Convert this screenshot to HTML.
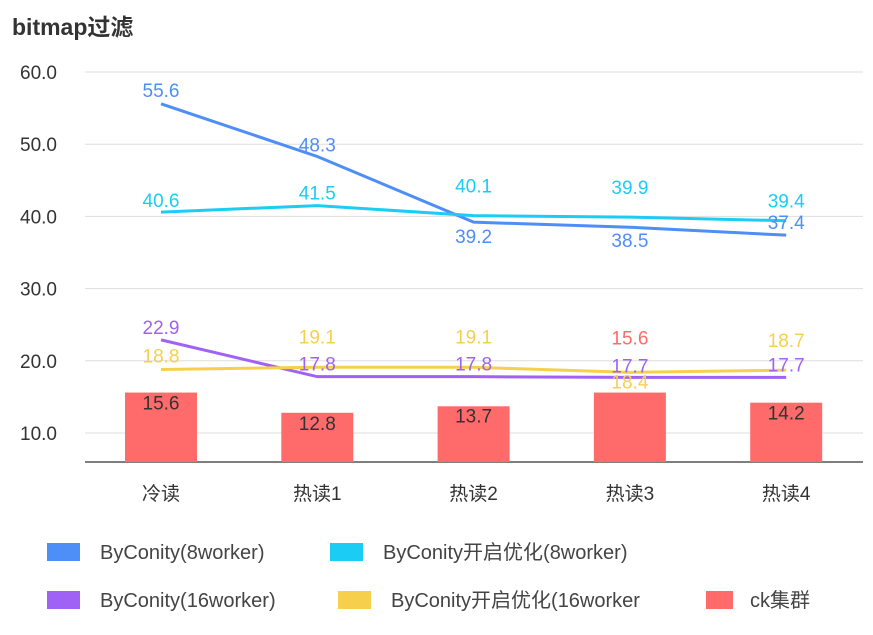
<!DOCTYPE html>
<html><head><meta charset="utf-8"><style>
body{margin:0;background:#fff;width:873px;height:630px;overflow:hidden;font-family:"Liberation Sans","Noto Sans CJK SC",sans-serif;}
svg text{font-family:"Liberation Sans","Noto Sans CJK SC",sans-serif;}
</style></head><body>
<svg id="chart" width="873" height="630" xmlns="http://www.w3.org/2000/svg">
<text x="12" y="35" font-size="23" font-weight="bold" fill="#333">bitmap过滤</text>
<g id="grid"></g><g id="bars"></g><g id="lines"></g><g id="labels"></g><g id="legend"></g>
</svg>
<script>
const categories=["冷读","热读1","热读2","热读3","热读4"];
const yTicks=[10,20,30,40,50,60];
const seriesNames=["ByConity(8worker)","ByConity开启优化(8worker)","ByConity(16worker)","ByConity开启优化(16worker","ck集群"];
const s8=[55.6,48.3,39.2,38.5,37.4];
const s8opt=[40.6,41.5,40.1,39.9,39.4];
const s16=[22.9,17.8,17.8,17.7,17.7];
const s16opt=[18.8,19.1,19.1,18.4,18.7];
const ck=[15.6,12.8,13.7,15.6,14.2];
// label offsets (style, px from point to label centre)
const offS8=[-14,-12,14,13,-13];
const offS8opt=[-12,-13,-30,-30,-20];
const offS16=[-13,-13,-13,-12,-13];
const offS16opt=[-14,-31,-31,9,-30];
const offCk=[10,10,9,-55,10];
const NS="http://www.w3.org/2000/svg";
const y=v=>433-(v-10)*7.22;
const x=i=>161+i*156.3;
const base=462;
function mk(t,a,p){const e=document.createElementNS(NS,t);for(const k in a)e.setAttribute(k,a[k]);p.appendChild(e);return e;}
const G=document.getElementById('grid');
yTicks.forEach(t=>{
 const l=mk('line',{x1:85,x2:863,y1:y(t),y2:y(t),stroke:'#ddd','stroke-width':1},G);
 
 
 const tx=mk('text',{x:57,y:y(t)+7,'text-anchor':'end','font-size':19,fill:'#333'},G);tx.textContent=t.toFixed(1);
 
 
});
const ax=mk('line',{x1:85,x2:863,y1:base,y2:base,stroke:'#555','stroke-width':1.5},G);


categories.forEach((c,i)=>{
 const t=mk('text',{x:x(i),y:500,'text-anchor':'middle','font-size':19,fill:'#333'},G);t.textContent=c;
 
 
});
const B=document.getElementById('bars'),L=document.getElementById('labels');
ck.forEach((v,i)=>{
 const r=mk('rect',{x:x(i)-36,y:y(v),width:72,height:base-y(v),fill:'#ff6b6b'},B);
 
 
 const t=mk('text',{x:x(i),y:y(v)+offCk[i]+7,'text-anchor':'middle','font-size':19,fill:offCk[i]<0?'#ff6b6b':'#333'},L);t.textContent=v.toFixed(1);
 
 
});
const LN=document.getElementById('lines');
const lineDefs=[[s8,'#4e8ef7',offS8],[s8opt,'#1bcdf4',offS8opt],[s16,'#a062f5',offS16],[s16opt,'#f6d04d',offS16opt]];
lineDefs.forEach(([d,c,off],k)=>{
 const p=mk('polyline',{points:d.map((v,i)=>x(i)+','+y(v)).join(' '),fill:'none',stroke:c,'stroke-width':3},LN);
 
 
 d.forEach((v,i)=>{
  const t=mk('text',{x:x(i),y:y(v)+off[i]+7,'text-anchor':'middle','font-size':19,fill:c},L);t.textContent=v.toFixed(1);
  
  
 });
});
const LG=document.getElementById('legend');
const colors=['#4e8ef7','#1bcdf4','#a062f5','#f6d04d','#ff6b6b'];
const lpos=[[47,552,100],[330,552,383],[47,600,100],[338,600,391],[706,600,750]];
lpos.forEach(([rx,ry,tx],k)=>{
 const g=mk('g',{},LG);
 
 
 mk('rect',{x:rx,y:ry-9,width:k==4?27:33,height:18,fill:colors[k]},g);
 const t=mk('text',{x:tx,y:ry+7,'font-size':20,fill:'#444'},g);t.textContent=seriesNames[k];
});
</script>
</body></html>
